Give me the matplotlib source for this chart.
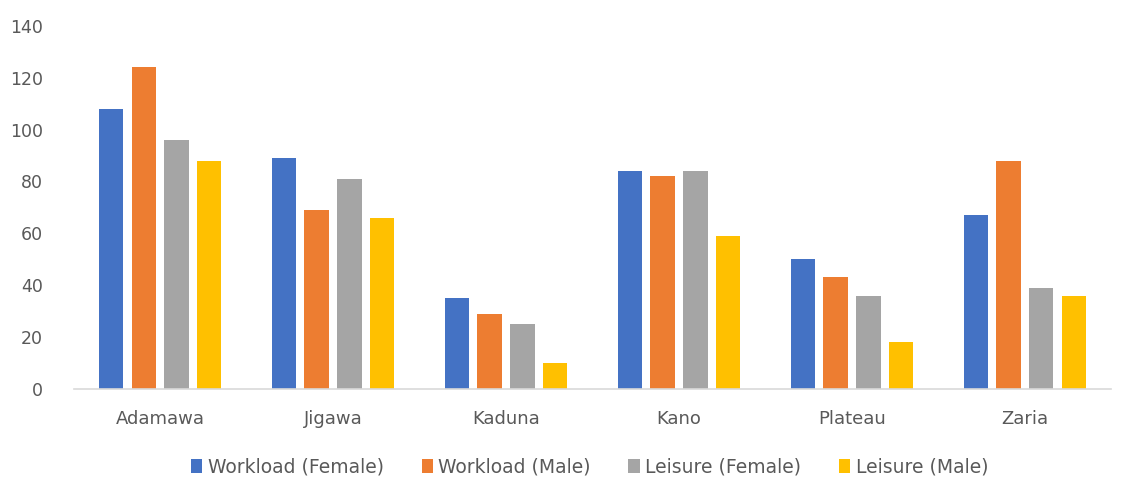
import numpy as np
import matplotlib
matplotlib.use("Agg")
import matplotlib.pyplot as plt

# data
states = ["Adamawa", "Jigawa", "Kaduna", "Kano", "Plateau", "Zaria"]
workload_female = [108, 89, 35, 84, 50, 67]
workload_male = [124, 69, 29, 82, 43, 88]
leisure_female = [96, 81, 25, 84, 36, 39]
leisure_male = [88, 66, 10, 59, 18, 36]

series = [
    ("Workload (Female)", workload_female, "#4472C4"),
    ("Workload (Male)", workload_male, "#ED7D31"),
    ("Leisure (Female)", leisure_female, "#A5A5A5"),
    ("Leisure (Male)", leisure_male, "#FFC000"),
]

fig = plt.figure(figsize=(11.34, 4.79), dpi=100)
ax = fig.add_axes([0.065, 0.188, 0.915, 0.758])

x = np.arange(len(states))
slot, width = 0.189, 0.142
for i, (name, vals, col) in enumerate(series):
    ax.bar(x + (i - 1.5) * slot, vals, width, color=col, label=name)

ax.set_xlim(-0.5, len(states) - 0.5)
ax.set_ylim(0, 140)
ax.set_yticks(range(0, 141, 20))
ax.set_xticks(x)
ax.set_xticklabels(states, fontsize=13)
for s in ["top", "right", "left"]:
    ax.spines[s].set_visible(False)
ax.spines["bottom"].set_color("#D9D9D9")
ax.spines["bottom"].set_linewidth(1.2)
ax.tick_params(axis="both", length=0, labelcolor="#595959")
ax.tick_params(axis="y", labelsize=12.5, pad=22)
ax.tick_params(axis="x", pad=15)

fig.legend(loc="center", bbox_to_anchor=(0.52, 0.025), ncol=4, frameon=False,
           fontsize=13.5, handlelength=0.6, handleheight=0.7, handletextpad=0.3,
           columnspacing=2.0, labelcolor="#595959")

fig.savefig("out.png", dpi=100)
